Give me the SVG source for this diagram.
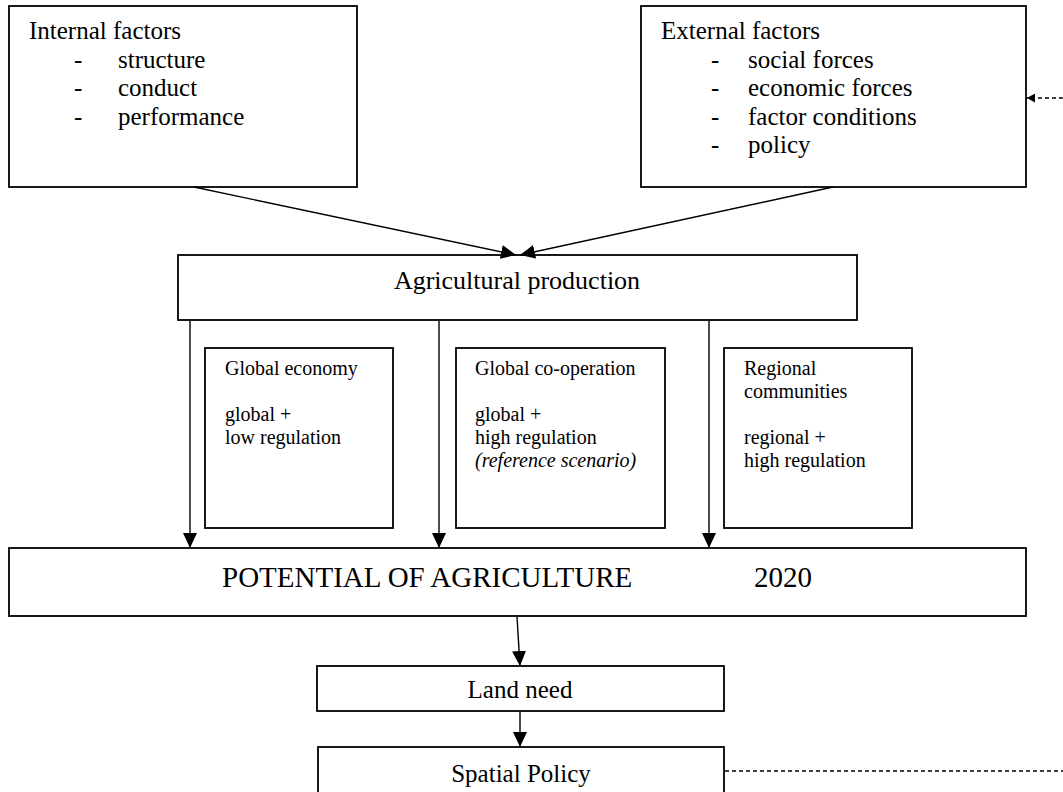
<svg xmlns="http://www.w3.org/2000/svg" width="1063" height="792" viewBox="0 0 1063 792">
<defs>
<style>
.box{fill:#fff;stroke:#000;stroke-width:1.8}
text{font-family:'Liberation Serif','Times New Roman',serif;fill:#000}
.big{font-size:25px}
.sm{font-size:20px}
.ln{stroke:#000;stroke-width:1.4;fill:none}
.dash{stroke:#000;stroke-width:1.4;fill:none;stroke-dasharray:4 3}
</style>
<marker id="ah" markerUnits="userSpaceOnUse" markerWidth="16" markerHeight="14" refX="15" refY="7" orient="auto">
<path d="M0,0 L15,7 L0,14 z" fill="#000"/>
</marker>
<marker id="ahs" markerUnits="userSpaceOnUse" markerWidth="9" markerHeight="9" refX="8" refY="4.5" orient="auto">
<path d="M0,0 L8,4.5 L0,9 z" fill="#000"/>
</marker>
</defs>
<rect width="1063" height="792" fill="#fff"/>
<g id="internal">
<rect class="box" x="9" y="6" width="348" height="181"/>
<text class="big" x="29" y="39">Internal factors</text>
<text class="big" x="74" y="68">-</text><text class="big" x="118" y="68">structure</text>
<text class="big" x="74" y="96">-</text><text class="big" x="118" y="96">conduct</text>
<text class="big" x="74" y="125">-</text><text class="big" x="118" y="125">performance</text>
</g>
<g id="external">
<rect class="box" x="641" y="6" width="385" height="181"/>
<text class="big" x="661" y="39">External factors</text>
<text class="big" x="711" y="68">-</text><text class="big" x="748" y="68">social forces</text>
<text class="big" x="711" y="96">-</text><text class="big" x="748" y="96">economic forces</text>
<text class="big" x="711" y="125">-</text><text class="big" x="748" y="125">factor conditions</text>
<text class="big" x="711" y="153">-</text><text class="big" x="748" y="153">policy</text>
</g>
<g id="agri">
<rect class="box" x="178" y="255" width="679" height="65"/>
<text font-size="26" x="517" y="289" text-anchor="middle">Agricultural production</text>
</g>
<g id="global-economy">
<rect class="box" x="205" y="348" width="188" height="180"/>
<text class="sm" x="225" y="375">Global economy</text>
<text class="sm" x="225" y="421">global +</text>
<text class="sm" x="225" y="444">low regulation</text>
</g>
<g id="global-cooperation">
<rect class="box" x="456" y="348" width="209" height="180"/>
<text class="sm" x="475" y="375">Global co-operation</text>
<text class="sm" x="475" y="421">global +</text>
<text class="sm" x="475" y="444">high regulation</text>
<text class="sm" x="475" y="467" font-style="italic">(reference scenario)</text>
</g>
<g id="regional-communities">
<rect class="box" x="724" y="348" width="188" height="180"/>
<text class="sm" x="744" y="375">Regional</text>
<text class="sm" x="744" y="398">communities</text>
<text class="sm" x="744" y="444">regional +</text>
<text class="sm" x="744" y="467">high regulation</text>
</g>
<g id="potential">
<rect class="box" x="9" y="548" width="1017" height="68"/>
<text font-size="29" x="222" y="587">POTENTIAL OF AGRICULTURE</text>
<text font-size="29" x="754" y="587">2020</text>
</g>
<g id="land-need">
<rect class="box" x="317" y="666" width="407" height="45"/>
<text font-size="25" x="520" y="698" text-anchor="middle">Land need</text>
</g>
<g id="spatial-policy">
<rect class="box" x="318" y="747" width="406" height="60"/>
<text font-size="25" x="521" y="782" text-anchor="middle">Spatial Policy</text>
</g>
<g id="connectors">
<line class="ln" x1="194" y1="187" x2="516" y2="255" marker-end="url(#ah)"/>
<line class="ln" x1="833" y1="187" x2="520" y2="255" marker-end="url(#ah)"/>
<line class="ln" x1="190" y1="321" x2="190" y2="548" marker-end="url(#ah)"/>
<line class="ln" x1="439" y1="321" x2="439" y2="548" marker-end="url(#ah)"/>
<line class="ln" x1="709" y1="321" x2="709" y2="548" marker-end="url(#ah)"/>
<line class="ln" x1="517" y1="617" x2="520" y2="666" marker-end="url(#ah)"/>
<line class="ln" x1="520" y1="712" x2="520" y2="747" marker-end="url(#ah)"/>
<line class="dash" x1="1063" y1="98" x2="1027" y2="98" marker-end="url(#ahs)"/>
<line class="dash" x1="725" y1="771" x2="1063" y2="771"/>
</g>
</svg>
